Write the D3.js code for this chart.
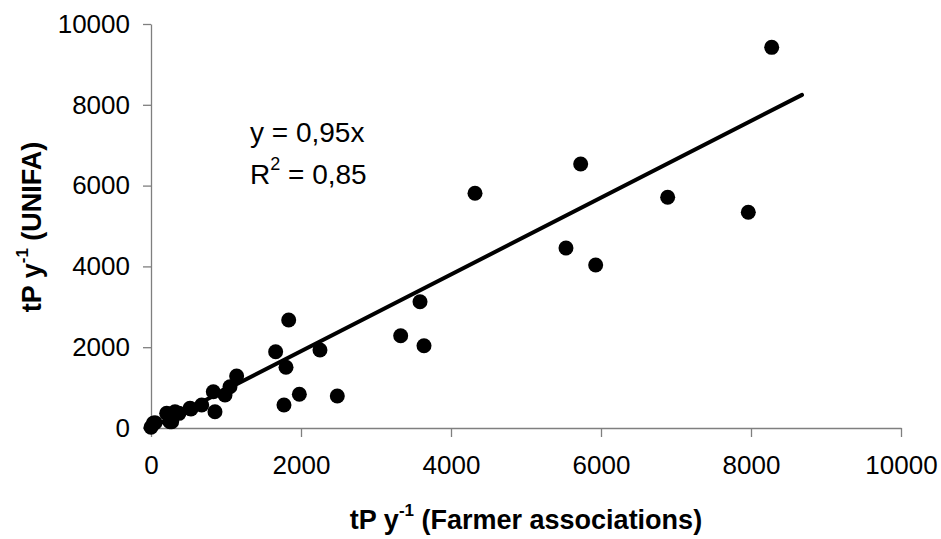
<!DOCTYPE html>
<html><head><meta charset="utf-8">
<script src="https://cdn.jsdelivr.net/npm/d3@7/dist/d3.min.js"></script>
<style>body{margin:0;background:#fff}svg{display:block}text{font-family:Arial,"Liberation Sans",sans-serif}</style>
</head><body><svg id="c" width="941" height="539"></svg>
<script>
const farmerX = [0,31,53,209,253,276,320,373,520,533,676,831,853,987,1053,1142,1662,1773,1800,1836,1978,2253,2484,3329,3587,3640,4320,5533,5729,5929,6889,7964,8276];
const unifaY = [17,116,132,363,157,157,404,363,487,470,569,899,404,817,1022,1287,1889,569,1502,2673,834,1931,792,2284,3126,2037,5809,4455,6534,4034,5710,5339,9422];
const ticks = [0,2000,4000,6000,8000,10000];
const slope = 0.95, lineEnd = 8680;

const svg = d3.select("#c");
const x = d3.scaleLinear().domain([0,10000]).range([151,901]);
const y = d3.scaleLinear().domain([0,10000]).range([428,24]);
const fmt = d3.format("d");

const xa = svg.append("g").attr("transform","translate(0,428)")
  .call(d3.axisBottom(x).tickValues(ticks).tickFormat(fmt).tickSize(9).tickSizeOuter(0));
const ya = svg.append("g").attr("transform","translate(151,0)")
  .call(d3.axisLeft(y).tickValues(ticks).tickFormat(fmt).tickSize(8).tickSizeOuter(0).tickPadding(13));
[xa,ya].forEach(a=>{
  a.selectAll("path,line").attr("stroke","#7f7f7f").attr("stroke-width",1.3);
  a.selectAll("text").attr("font-size","26px").attr("fill","#000").attr("font-family","Arial, 'Liberation Sans', sans-serif");
});
xa.selectAll("text").attr("y",46).attr("dy",0);

svg.append("line")
  .attr("x1",x(0)).attr("y1",y(0)).attr("x2",x(lineEnd)).attr("y2",y(slope*lineEnd))
  .attr("stroke","#000").attr("stroke-width",4).attr("stroke-linecap","round");

svg.append("g").selectAll("circle").data(farmerX.map((v,i)=>[v,unifaY[i]])).join("circle")
  .attr("cx",d=>x(d[0])).attr("cy",d=>y(d[1])).attr("r",7.5).attr("fill","#000");

const eq = svg.append("g").attr("font-size","28px");
eq.append("text").attr("x",250).attr("y",142).text("y = 0,95x");
const r2 = eq.append("text").attr("x",250).attr("y",184);
r2.append("tspan").text("R");
r2.append("tspan").attr("font-size","18px").attr("dy",-14).text("2");
r2.append("tspan").attr("dy",14).text(" = 0,85");

const xt = svg.append("text").attr("x",526).attr("y",529).attr("text-anchor","middle")
  .attr("font-size","27px").attr("font-weight","bold");
xt.append("tspan").text("tP y");
xt.append("tspan").attr("font-size","17px").attr("dy",-13).text("-1");
xt.append("tspan").attr("dy",13).text(" (Farmer associations)");

const yt = svg.append("text").attr("transform","translate(41,227) rotate(-90)").attr("text-anchor","middle")
  .attr("font-size","27px").attr("font-weight","bold");
yt.append("tspan").text("tP y");
yt.append("tspan").attr("font-size","17px").attr("dy",-13).text("-1");
yt.append("tspan").attr("dy",13).text(" (UNIFA)");
</script></body></html>
